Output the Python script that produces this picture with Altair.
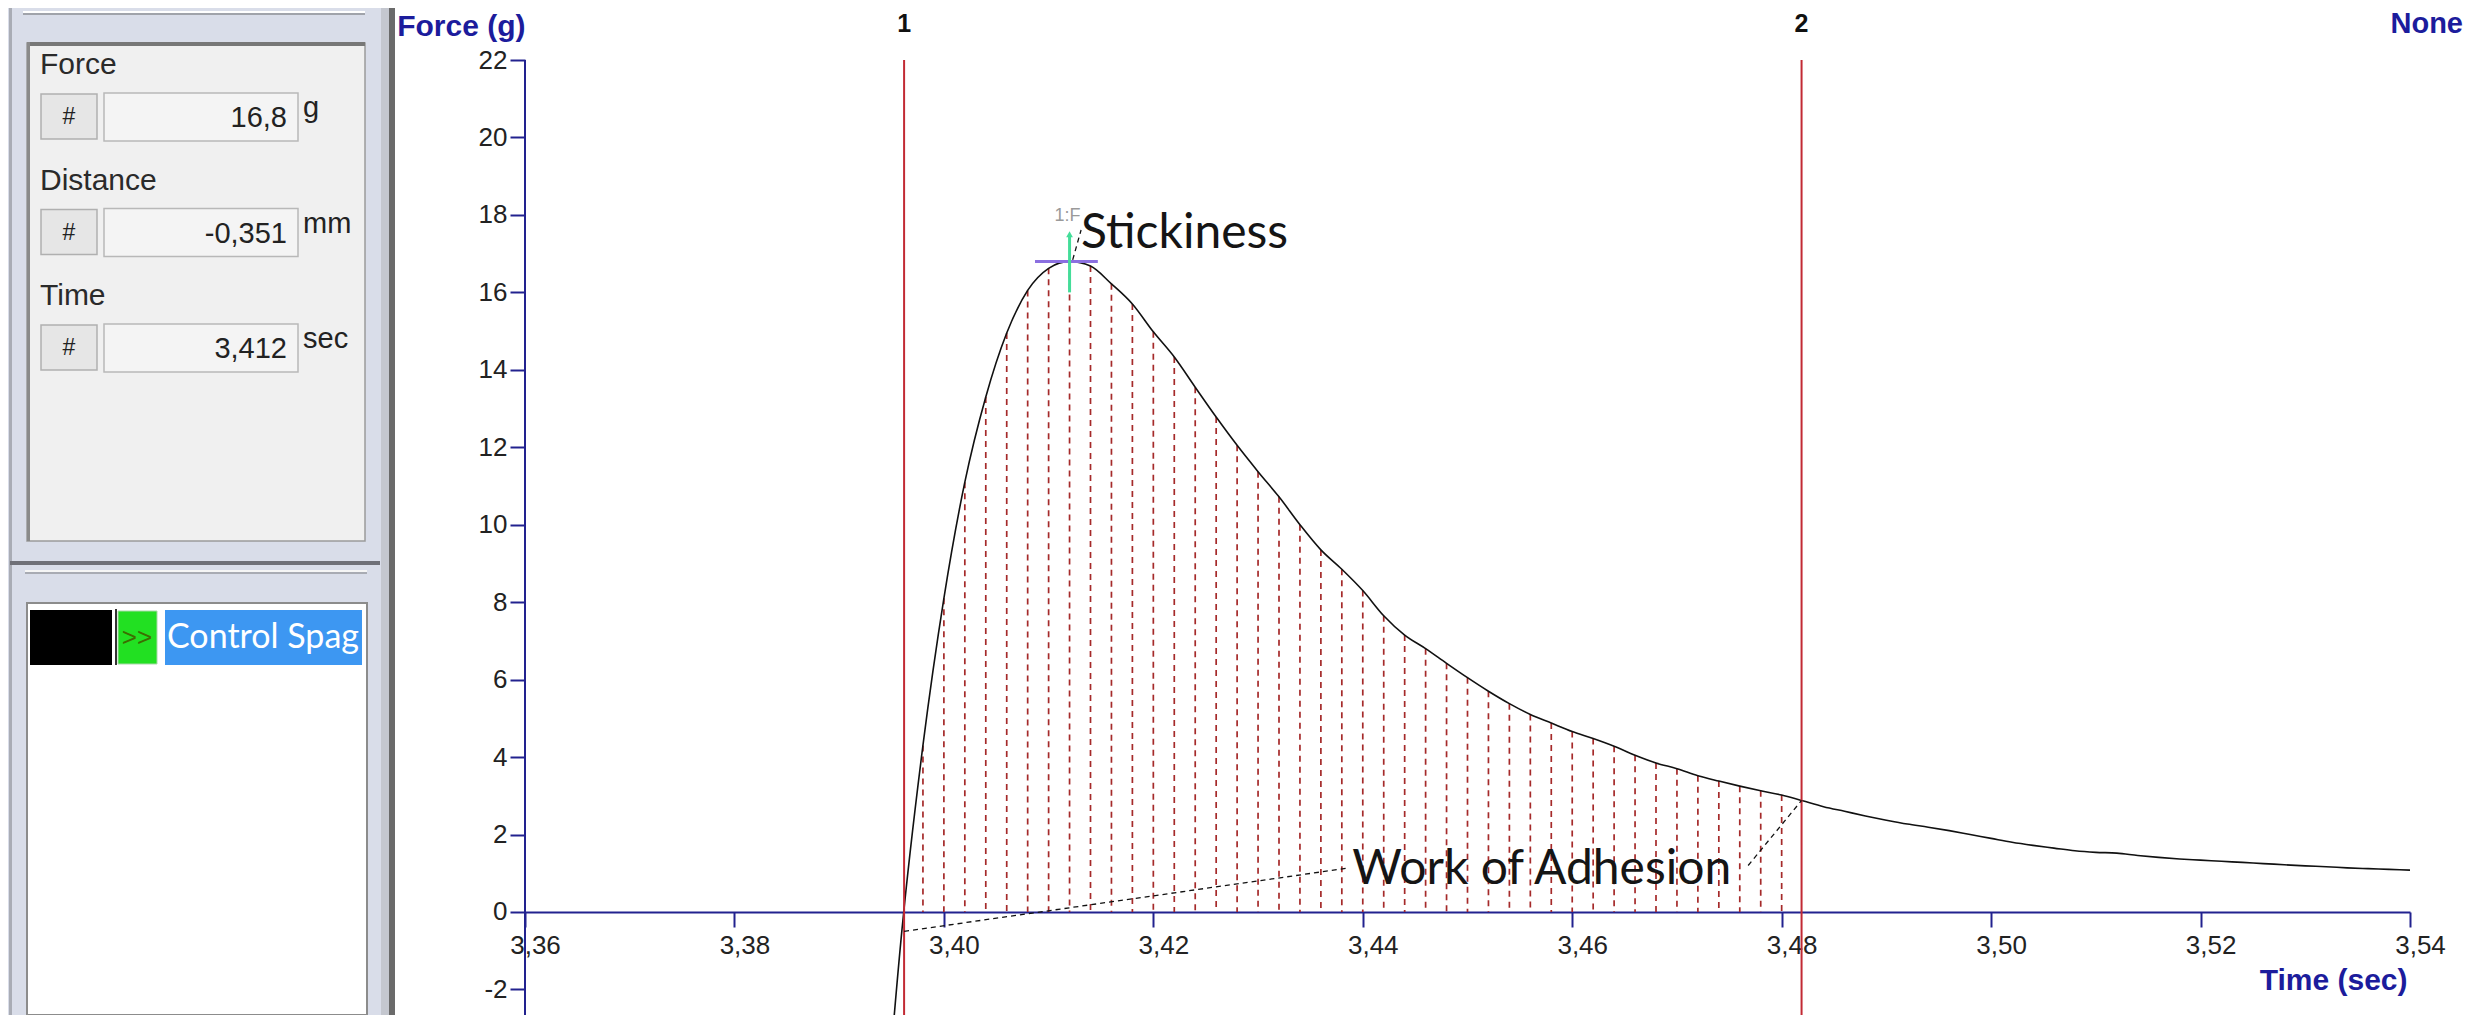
import altair as alt
import pandas as pd

# ---------------- data ----------------
time_s = [3.394, 3.396, 3.398, 3.400, 3.402, 3.404, 3.406, 3.408, 3.410, 3.412,
          3.414, 3.416, 3.418, 3.420, 3.422, 3.424, 3.426, 3.428, 3.430, 3.432,
          3.434, 3.436, 3.438, 3.440, 3.442, 3.444, 3.446, 3.448, 3.450, 3.452,
          3.454, 3.456, 3.458, 3.460, 3.462, 3.464, 3.466, 3.468, 3.470, 3.472,
          3.474, 3.476, 3.478, 3.480, 3.482, 3.484, 3.486, 3.488, 3.490, 3.492,
          3.494, 3.496, 3.498, 3.500, 3.502, 3.504, 3.506, 3.508, 3.510, 3.512,
          3.514, 3.516, 3.518, 3.520, 3.522, 3.524, 3.526, 3.528, 3.530, 3.532,
          3.534, 3.536, 3.538, 3.540]
force_g = [-6.8, -0.45, 4.3, 8.1, 11.1, 13.3, 14.95, 16.05, 16.62, 16.8,
           16.68, 16.22, 15.7, 14.98, 14.33, 13.55, 12.78, 12.05, 11.37, 10.72,
           10.0, 9.35, 8.85, 8.3, 7.65, 7.15, 6.8, 6.42, 6.05, 5.7,
           5.38, 5.1, 4.88, 4.66, 4.48, 4.28, 4.05, 3.85, 3.7, 3.52,
           3.38, 3.25, 3.13, 3.02, 2.87, 2.72, 2.6, 2.48, 2.37, 2.27,
           2.19, 2.1, 2.0, 1.9, 1.8, 1.72, 1.65, 1.58, 1.54, 1.52,
           1.46, 1.41, 1.37, 1.34, 1.31, 1.28, 1.25, 1.22, 1.19, 1.17,
           1.14, 1.12, 1.1, 1.08]

cursor_times = [3.3962, 3.4819]
cursor_labels = ["1", "2"]
peak_time = 3.412
peak_force = 16.8

x_ticks = [3.36, 3.38, 3.40, 3.42, 3.44, 3.46, 3.48, 3.50, 3.52, 3.54]
y_ticks = [-2, 0, 2, 4, 6, 8, 10, 12, 14, 16, 18, 20, 22]

panel_labels = ["Force", "Distance", "Time"]
panel_values = ["16,8", "-0,351", "3,412"]
panel_units = ["g", "mm", "sec"]
legend_name = "Control Spaghetti"

# ---------------- styling ----------------
NAVY = "#22228f"
TITLE_NAVY = "#1c1c9c"
RED = "#c22a34"
X_DOMAIN = [3.36, 3.54]
Y_DOMAIN = [-2.66, 23.343]

xscale = alt.Scale(domain=X_DOMAIN, nice=False, zero=False)
yscale = alt.Scale(domain=Y_DOMAIN, nice=False, zero=False)

xaxis = alt.Axis(
    values=x_ticks,
    labelExpr="replace(format(datum.value, '.2f'), '.', ',')",
    title="Time (sec)", offset=-103, grid=False,
    domainColor=NAVY, domainWidth=2, tickColor=NAVY, tickWidth=2, tickSize=15,
    labelFont="Liberation Sans", labelFontSize=26, labelColor="#222222",
    labelPadding=5, labelOffset=10, labelFlush=False, labelOverlap=False,
    titleFont="Liberation Sans", titleFontSize=30, titleFontWeight="bold",
    titleColor=TITLE_NAVY, titleX=1882, titleY=68, titleAlign="right",
    titleBaseline="middle", titleAngle=0,
)
yaxis = alt.Axis(
    values=y_ticks, labelExpr="'' + datum.value",
    title="Force (g)", domain=False, grid=False,
    tickColor=NAVY, tickWidth=2, tickSize=15,
    labelFont="Liberation Sans", labelFontSize=26, labelColor="#222222",
    labelPadding=3, labelFlush=False, labelOverlap=False,
    titleFont="Liberation Sans", titleFontSize=30, titleFontWeight="bold",
    titleColor=TITLE_NAVY, titleAngle=0, titleX=0, titleY=18,
    titleAlign="right", titleBaseline="middle",
)


def X(f="t"):
    return alt.X(f"{f}:Q", scale=xscale, axis=xaxis)


def Y(f="v"):
    return alt.Y(f"{f}:Q", scale=yscale, axis=yaxis)


curve_df = pd.DataFrame({"t": time_s, "v": force_g})
fill_df = curve_df[(curve_df.t > cursor_times[0] + 0.001) & (curve_df.t < cursor_times[1])].copy()
fill_df["v2"] = 0.0

hatch = alt.Chart(fill_df).mark_rule(color="#a52a2a", strokeWidth=1.7, strokeDash=[6, 5]).encode(
    x=X(), y=Y(), y2=alt.Y2("v2:Q"))

curve = alt.Chart(curve_df).mark_line(color="#111111", strokeWidth=1.6, clip=True,
                                      interpolate="monotone").encode(x=X(), y=Y())

cursor_df = pd.DataFrame({"t": cursor_times, "v": [22] * 2, "v2": [Y_DOMAIN[0]] * 2, "lab": cursor_labels})
cursors = alt.Chart(cursor_df).mark_rule(color=RED, strokeWidth=2).encode(x=X(), y=Y(), y2=alt.Y2("v2:Q"))
cursor_text = alt.Chart(cursor_df.assign(v=22.93)).mark_text(
    font="Liberation Sans", fontSize=25, fontWeight="bold", color="#111111", baseline="middle"
).encode(x=X(), y=Y(), text="lab:N")

yline_df = pd.DataFrame({"t": [X_DOMAIN[0]], "v": [y_ticks[-1]], "v2": [Y_DOMAIN[0]]})
yline = alt.Chart(yline_df).mark_rule(color=NAVY, strokeWidth=2).encode(x=X(), y=Y(), y2=alt.Y2("v2:Q"))

callout_df = pd.DataFrame({
    "t": [cursor_times[0], 3.4768, 3.4123],
    "v": [-0.5, 1.2, 16.84],
    "t2": [3.4385, cursor_times[1], 3.4131],
    "v2": [1.13, 2.88, 17.61],
})
callouts = alt.Chart(callout_df).mark_rule(color="#111111", strokeWidth=1.3, strokeDash=[5, 4]).encode(
    x=X(), x2=alt.X2("t2:Q"), y=Y(), y2=alt.Y2("v2:Q"))

peak_h = alt.Chart(pd.DataFrame({"t": [3.4087], "t2": [3.4147], "v": [peak_force]})).mark_rule(
    color="#8b6fe0", strokeWidth=3).encode(x=X(), x2=alt.X2("t2:Q"), y=Y())
peak_v = alt.Chart(pd.DataFrame({"t": [peak_time], "v": [16.0], "v2": [17.45]})).mark_rule(
    color="#44dd99", strokeWidth=3).encode(x=X(), y=Y(), y2=alt.Y2("v2:Q"))
peak_arrow = alt.Chart(pd.DataFrame({"t": [peak_time], "v": [17.5]})).mark_point(
    shape="triangle-up", filled=True, size=45, color="#44dd99", opacity=1).encode(x=X(), y=Y())
peak_lab = alt.Chart(pd.DataFrame({"t": [peak_time - 0.0002], "v": [17.97], "s": ["1:F"]})).mark_text(
    font="Liberation Sans", fontSize=18, color="#9a9a9a", baseline="middle").encode(x=X(), y=Y(), text="s:N")

ann_df = pd.DataFrame({"t": [3.4131, 3.4390], "v": [17.14, 0.72], "s": ["Stickiness", "Work of Adhesion"]})
annotations = alt.Chart(ann_df).mark_text(
    font="Lato", fontSize=48, color="#151515", align="left", baseline="alphabetic"
).encode(x=X(), y=Y(), text="s:N")

none_lab = alt.Chart(pd.DataFrame({"t": [3.54506], "v": [22.93], "s": ["None"]})).mark_text(
    font="Liberation Sans", fontSize=29, fontWeight="bold", color=TITLE_NAVY, align="right", baseline="middle"
).encode(x=X(), y=Y(), text="s:N")

main = alt.layer(hatch, curve, cursors, yline, callouts, peak_h, peak_v, peak_arrow, peak_lab,
                 annotations, cursor_text, none_lab).properties(width=1885, height=1007)

# ---------------- left instrument panel ----------------
PX = alt.Scale(domain=[8, 395], nice=False, zero=False)
PY = alt.Scale(domain=[8, 1015], reverse=True, nice=False, zero=False)


def prect(df, **kw):
    return alt.Chart(df).mark_rect(**kw).encode(
        x=alt.X("x:Q", scale=PX, axis=None), x2="x2:Q",
        y=alt.Y("y:Q", scale=PY, axis=None), y2="y2:Q")


def ptext(df, **kw):
    return alt.Chart(df).mark_text(**kw).encode(
        x=alt.X("x:Q", scale=PX, axis=None), y=alt.Y("y:Q", scale=PY, axis=None), text="s:N")


def box(x, x2, y, y2):
    return pd.DataFrame({"x": [x], "x2": [x2], "y": [y], "y2": [y2]})


n = len(panel_labels)
row_top = [93 + 115.5 * i for i in range(n)]
buttons = pd.DataFrame({"x": [41] * n, "x2": [97] * n, "y": [r + 1 for r in row_top], "y2": [r + 46 for r in row_top]})
fields = pd.DataFrame({"x": [104] * n, "x2": [298] * n, "y": row_top, "y2": [r + 48 for r in row_top]})
label_df = pd.DataFrame({"x": [40] * n, "y": [r - 28 for r in row_top], "s": panel_labels})
hash_df = pd.DataFrame({"x": [69] * n, "y": [r + 24 for r in row_top], "s": ["#"] * n})
value_df = pd.DataFrame({"x": [287] * n, "y": [r + 34 for r in row_top], "s": panel_values})
unit_df = pd.DataFrame({"x": [303] * n, "y": [r + 24 for r in row_top], "s": panel_units})

panel = alt.layer(
    prect(box(8, 395, 8, 1015), color="#d9dde9"),
    prect(box(9, 12, 8, 1015), color="#a9acb5"),
    prect(box(381, 389, 8, 1015), color="#c4c7cf"),
    prect(box(389, 395, 8, 1015), color="#6a6a6a"),
    prect(box(23, 365, 11, 13), color="#ffffff"),
    prect(box(23, 365, 13, 15), color="#a0a3aa"),
    prect(box(27, 365, 43, 541), color="#f0f0f0", stroke="#9a9a9a", strokeWidth=1.5),
    prect(box(27, 365, 42, 46), color="#777777"),
    prect(box(27, 30, 42, 541), color="#8a8a8a"),
    prect(buttons, color="#e6e6e6", stroke="#b0b0b0", strokeWidth=1.5),
    prect(fields, color="#f4f4f4", stroke="#b8b8b8", strokeWidth=1.5),
    ptext(label_df, font="Liberation Sans", fontSize=30, color="#2a2a2a", align="left", baseline="middle"),
    ptext(hash_df, font="Liberation Sans", fontSize=23, color="#222222", align="center", baseline="middle"),
    ptext(value_df, font="Liberation Sans", fontSize=29, color="#222222", align="right", baseline="alphabetic"),
    ptext(unit_df, font="Liberation Sans", fontSize=29, color="#222222", align="left", baseline="alphabetic"),
    prect(box(10, 380, 561, 565), color="#6f7078"),
    prect(box(25, 367, 570, 572), color="#f5f5f5"),
    prect(box(25, 367, 572, 574), color="#a8abb3"),
    prect(box(27, 367, 603, 1015), color="#ffffff", stroke="#8c8c8c", strokeWidth=2),
    prect(box(30, 112, 610, 665), color="#000000"),
    prect(box(115, 117, 609, 665), color="#333333"),
    prect(box(118, 157, 611, 664), color="#22e022", stroke="#a8d8a8", strokeWidth=1),
    ptext(pd.DataFrame({"x": [137], "y": [638], "s": [">>"]}), font="Liberation Sans", fontSize=26,
          color="#3c6e00", align="center", baseline="middle"),
    prect(box(165, 362, 610, 665), color="#3d97f2"),
    ptext(pd.DataFrame({"x": [167], "y": [638], "s": [legend_name]}), font="Lato", fontSize=34,
          color="#ffffff", align="left", baseline="middle", limit=196, ellipsis="\u200b"),
).properties(width=387, height=1007)

chart = alt.hconcat(panel, main, spacing=130, bounds="flush").properties(
    padding=0, background="#ffffff"
).configure_view(stroke=None)

chart.save("out.html", embed_options={"renderer": "svg", "actions": False})
